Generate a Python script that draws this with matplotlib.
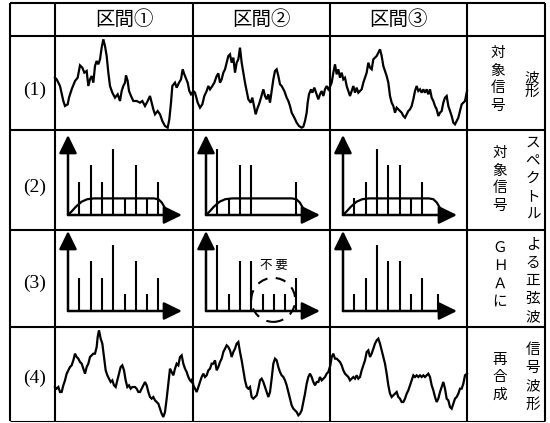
import matplotlib
matplotlib.use("Agg")
import matplotlib.pyplot as plt
from matplotlib.patches import Ellipse

plt.rcParams['font.family'] = ['Noto Sans CJK JP', 'DejaVu Sans']

# header and row labels
headers = ["区間①", "区間②", "区間③"]
row_labels = ["(1)", "(2)", "(3)", "(4)"]

# waveform of the target signal (row 1) and the resynthesised one (row 4)
# (sample position, depth below top of the cell)
wave1 = [(0, 125), (5, 130), (15, 150), (25, 195), (30, 210), (38, 205), (42, 185), (50, 160),
         (60, 135), (68, 125), (75, 88), (82, 95), (88, 110), (95, 105), (100, 150), (105, 130),
         (110, 120), (115, 140), (120, 90), (125, 75), (130, 85), (135, 70), (140, 35), (145, 10),
         (150, 30), (155, 60), (160, 110), (165, 150), (172, 170), (180, 185), (188, 175), (195, 195),
         (200, 165), (205, 150), (210, 140), (213, 118), (218, 135), (222, 165), (228, 180), (235, 195),
         (245, 195), (255, 200), (262, 195), (270, 210), (278, 195), (285, 180), (290, 200), (295, 220),
         (300, 235), (308, 225), (315, 235), (322, 255), (330, 270), (338, 275), (343, 250), (348, 200),
         (352, 150), (360, 140), (365, 155), (372, 140), (378, 130), (383, 100), (388, 115), (392, 125),
         (398, 140), (403, 165), (408, 175), (412, 170),
         (415, 165), (420, 170), (428, 200), (435, 215), (442, 205), (448, 180), (455, 165), (460, 150),
         (465, 160), (472, 150), (478, 140), (485, 120), (490, 112), (495, 140), (500, 130), (505, 110),
         (510, 100), (515, 80), (520, 60), (525, 55), (530, 80), (535, 65), (540, 110), (545, 80),
         (550, 70), (555, 35), (560, 80), (565, 110), (570, 140), (575, 165), (580, 190), (587, 200),
         (592, 185), (597, 210), (602, 235), (608, 215), (612, 205), (618, 185), (625, 160), (630, 180),
         (635, 190), (640, 175), (645, 200), (650, 165), (655, 130), (660, 105), (665, 100), (670, 120),
         (675, 145), (680, 150), (688, 165), (695, 185), (700, 195), (705, 210), (710, 230), (718, 245),
         (725, 260), (732, 270), (740, 275), (745, 272), (750, 255), (755, 230), (758, 200), (762, 175),
         (768, 160), (772, 170), (778, 155), (785, 175), (790, 190), (795, 175), (800, 165), (805, 180),
         (810, 160), (815, 150), (820, 160), (826, 150),
         (830, 140), (835, 110), (840, 85), (845, 115), (850, 100), (855, 125), (860, 110), (865, 130),
         (870, 125), (875, 150), (880, 165), (885, 180), (890, 165), (895, 150), (900, 170), (905, 155),
         (910, 170), (915, 165), (920, 160), (925, 140), (930, 125), (935, 110), (940, 80), (945, 95),
         (950, 100), (955, 70), (960, 65), (965, 60), (970, 50), (975, 40), (980, 60), (985, 90),
         (990, 105), (995, 120), (1000, 140), (1005, 180), (1010, 200), (1015, 210), (1020, 230), (1025, 215),
         (1030, 220), (1035, 225), (1040, 230), (1045, 240), (1050, 245), (1055, 235), (1060, 225), (1065, 220),
         (1070, 210), (1075, 190), (1080, 165), (1085, 150), (1090, 165), (1095, 160), (1100, 170), (1105, 160),
         (1110, 170), (1115, 160), (1120, 175), (1125, 160), (1130, 185), (1135, 195), (1140, 210), (1145, 220),
         (1150, 240), (1155, 230), (1160, 225), (1165, 200), (1170, 185), (1175, 180), (1180, 210), (1185, 225),
         (1190, 240), (1195, 260), (1200, 265), (1205, 255), (1210, 245), (1215, 225), (1220, 205), (1225, 200),
         (1230, 195), (1236, 165)]

wave4 = [(0, 180), (5, 185), (10, 180), (15, 195), (20, 195), (25, 175), (30, 160), (35, 140),
         (40, 130), (45, 120), (50, 115), (55, 100), (60, 80), (65, 90), (70, 95), (75, 105),
         (80, 110), (85, 125), (90, 140), (95, 120), (100, 110), (105, 90), (110, 85), (115, 80),
         (120, 80), (125, 60), (128, 30), (132, 10), (137, 35), (142, 50), (147, 90), (152, 130),
         (157, 145), (162, 155), (167, 165), (172, 160), (177, 175), (182, 180), (187, 160), (192, 140),
         (197, 120), (202, 115), (207, 130), (212, 160), (217, 180), (222, 175), (227, 185), (232, 180),
         (240, 180), (245, 185), (250, 195), (255, 195), (260, 185), (265, 175), (270, 165), (275, 175),
         (280, 195), (285, 210), (290, 215), (295, 210), (300, 220), (305, 225), (310, 230), (315, 245),
         (320, 260), (325, 270), (330, 255), (335, 215), (340, 170), (345, 125), (350, 135), (355, 145),
         (360, 125), (365, 110), (370, 115), (375, 90), (380, 85), (385, 110), (390, 125), (395, 135),
         (400, 150), (405, 160), (410, 165), (412, 155),
         (415, 175), (420, 185), (425, 195), (430, 180), (435, 165), (440, 150), (445, 140), (450, 150),
         (455, 145), (460, 130), (465, 125), (470, 110), (475, 110), (480, 100), (485, 130), (490, 120),
         (495, 105), (500, 95), (505, 75), (510, 65), (515, 55), (520, 60), (525, 70), (530, 90),
         (535, 75), (540, 65), (545, 50), (550, 45), (555, 75), (560, 100), (565, 130), (570, 160),
         (575, 180), (580, 185), (585, 180), (590, 210), (595, 215), (600, 210), (605, 205), (610, 185),
         (615, 160), (620, 155), (625, 165), (630, 180), (635, 195), (640, 210), (645, 195), (650, 155),
         (655, 110), (660, 95), (665, 100), (670, 120), (675, 135), (680, 145), (685, 150), (690, 160),
         (695, 175), (700, 195), (705, 215), (710, 235), (715, 245), (720, 250), (725, 255), (730, 265),
         (735, 260), (740, 250), (745, 225), (750, 200), (755, 170), (760, 150), (765, 140), (770, 150),
         (775, 165), (780, 175), (785, 165), (790, 165), (795, 150), (800, 160), (805, 155), (810, 150),
         (815, 140), (820, 135), (826, 115),
         (830, 90), (835, 80), (840, 95), (845, 95), (850, 100), (855, 105), (860, 115), (865, 130),
         (870, 140), (875, 145), (880, 150), (885, 160), (890, 155), (895, 150), (900, 155), (905, 145),
         (910, 155), (915, 150), (920, 130), (925, 115), (930, 100), (935, 75), (940, 70), (945, 90),
         (950, 80), (955, 65), (960, 50), (965, 40), (970, 35), (975, 50), (980, 70), (985, 90),
         (990, 110), (995, 140), (1000, 175), (1005, 200), (1010, 210), (1015, 205), (1020, 200), (1025, 195),
         (1030, 210), (1035, 215), (1040, 225), (1045, 225), (1050, 215), (1055, 200), (1060, 190), (1065, 175),
         (1070, 160), (1075, 145), (1080, 150), (1085, 145), (1090, 150), (1095, 145), (1100, 150), (1105, 145),
         (1110, 150), (1115, 145), (1120, 140), (1125, 150), (1130, 175), (1135, 190), (1140, 210), (1145, 225),
         (1150, 215), (1155, 195), (1160, 180), (1165, 165), (1170, 185), (1175, 215), (1180, 220), (1185, 240),
         (1190, 245), (1195, 230), (1200, 215), (1205, 210), (1210, 200), (1215, 185), (1220, 185), (1225, 170),
         (1230, 145), (1236, 140)]

# line spectra, amplitude per frequency bin
bins = [1, 2, 3, 4, 5, 6, 7, 8]
spec_target = [[2, 3, 2, 4, 1, 3, 1, 2],
               [4, 1, 3, 3, 0, 0, 0, 2],
               [1, 2, 4, 3, 3, 1, 2, 0]]
spec_gha = [[2, 3, 2, 4, 1, 3, 1, 2],
            [4, 1, 3, 3, 1, 1, 1, 2],
            [1, 2, 4, 3, 3, 1, 2, 0]]
extra_bin = 8.4   # stray component at the top end of interval 3
extra_amp = 1

# noise floor envelope of the target spectrum
env_f = [0, 0.3, 0.7, 1.2, 1.7, 2.3, 7.6, 8.0, 8.3, 8.6, 8.8, 8.9]
env_a = [0, 0.2, 0.5, 0.8, 0.95, 1.0, 1.0, 0.95, 0.75, 0.4, 0.1, 0]

# right-hand descriptions, written vertically
notes = [("対象信号", 498, 53, 17.5), ("波形", 532, 78, 14),
         ("対象信号", 500, 153, 17.7), ("スペクトル", 533, 143, 18),
         ("ＧＨＡに", 500, 248, 18), ("よる正弦波", 533, 245, 18),
         ("再合成", 500, 360, 17.5), ("信号波形", 533, 350, 18.3)]

W, H = 550, 423
fig = plt.figure(figsize=(W / 100, H / 100), dpi=100)


def px_axes(x0, y0, x1, y1):
    return fig.add_axes([x0 / W, 1 - y1 / H, (x1 - x0) / W, (y1 - y0) / H])


base = px_axes(0, 0, W, H)
base.set_xlim(0, W)
base.set_ylim(H, 0)
base.axis("off")

col_x = [10, 55, 193, 330, 467, 545]
row_y = [3, 36, 130, 230, 327, 421.5]
for x in col_x:
    base.plot([x, x], [row_y[0], row_y[-1]], color="black", lw=1.5, solid_capstyle="butt")
for y in row_y:
    base.plot([col_x[0], col_x[-1]], [y, y], color="black", lw=1.5 if y < 421 else 0.8,
              solid_capstyle="butt")

for i, h in enumerate(headers):
    base.text((col_x[i + 1] + col_x[i + 2]) / 2, 19, h, ha="center", va="center", fontsize=14)

label_y = [90, 187, 283, 378]
for lab, y in zip(row_labels, label_y):
    base.text(35, y, lab, ha="center", va="center", fontsize=14,
              family=["Liberation Serif", "DejaVu Serif"])

for s, x, y0, step in notes:
    for k, ch in enumerate(s):
        base.text(x, y0 + k * step, ch, ha="center", va="center", fontsize=10.5)

# waveforms
for wave, y0, y1, depth in [(wave1, 36, 130, 282), (wave4, 327, 423, 288)]:
    ax = px_axes(55, y0, 467, y1)
    ax.patch.set_alpha(0)
    t, v = zip(*wave)
    ax.plot(t, v, color="black", lw=1.6, solid_joinstyle="miter", clip_on=False)
    ax.set_xlim(0, 1236)
    ax.set_ylim(depth, 0)
    ax.axis("off")

# spectra
px_bin, px_lvl = 11.3, 16.6
ax_w, ax_h = 114, 80


def spectrum_axes(ox, oy):
    ax = px_axes(ox, oy - ax_h, ox + ax_w, oy)
    ax.patch.set_alpha(0)
    xm, ym = ax_w / px_bin, ax_h / px_lvl
    ax.set_xlim(0, xm)
    ax.set_ylim(0, ym)
    ax.axis("off")
    style = "-|>,head_length=0.55,head_width=0.27"
    for tip in [(xm, 0), (0, ym)]:
        ax.annotate("", xy=tip, xytext=(0, 0),
                    arrowprops=dict(arrowstyle=style, mutation_scale=20, lw=1.8, color="black",
                                    shrinkA=0, shrinkB=0))
    return ax


for i in range(3):
    ox = col_x[i + 1] + 13
    ax = spectrum_axes(ox, 215)
    ax.plot(env_f, env_a, color="black", lw=1.6)
    amps = spec_target[i]
    ax.vlines([b for b, a in zip(bins, amps) if a > 0], 0, [a for a in amps if a > 0],
              color="black", lw=1.5)

    ax = spectrum_axes(ox, 311)
    amps = spec_gha[i]
    ax.vlines([b for b, a in zip(bins, amps) if a > 0], 0, [a for a in amps if a > 0],
              color="black", lw=1.5)
    if i == 1:
        ax.add_patch(Ellipse((5.95, 0.67), 44 / px_bin, 44 / px_lvl, fill=False, color="black",
                             lw=1.5, ls=(0, (5, 4)), clip_on=False))
        ax.text(6.0, 2.75, "不 要", ha="center", va="center", fontsize=9)
    if i == 2:
        ax.vlines([extra_bin], 0, [extra_amp], color="black", lw=1.5)

fig.savefig("out.png", dpi=100)
